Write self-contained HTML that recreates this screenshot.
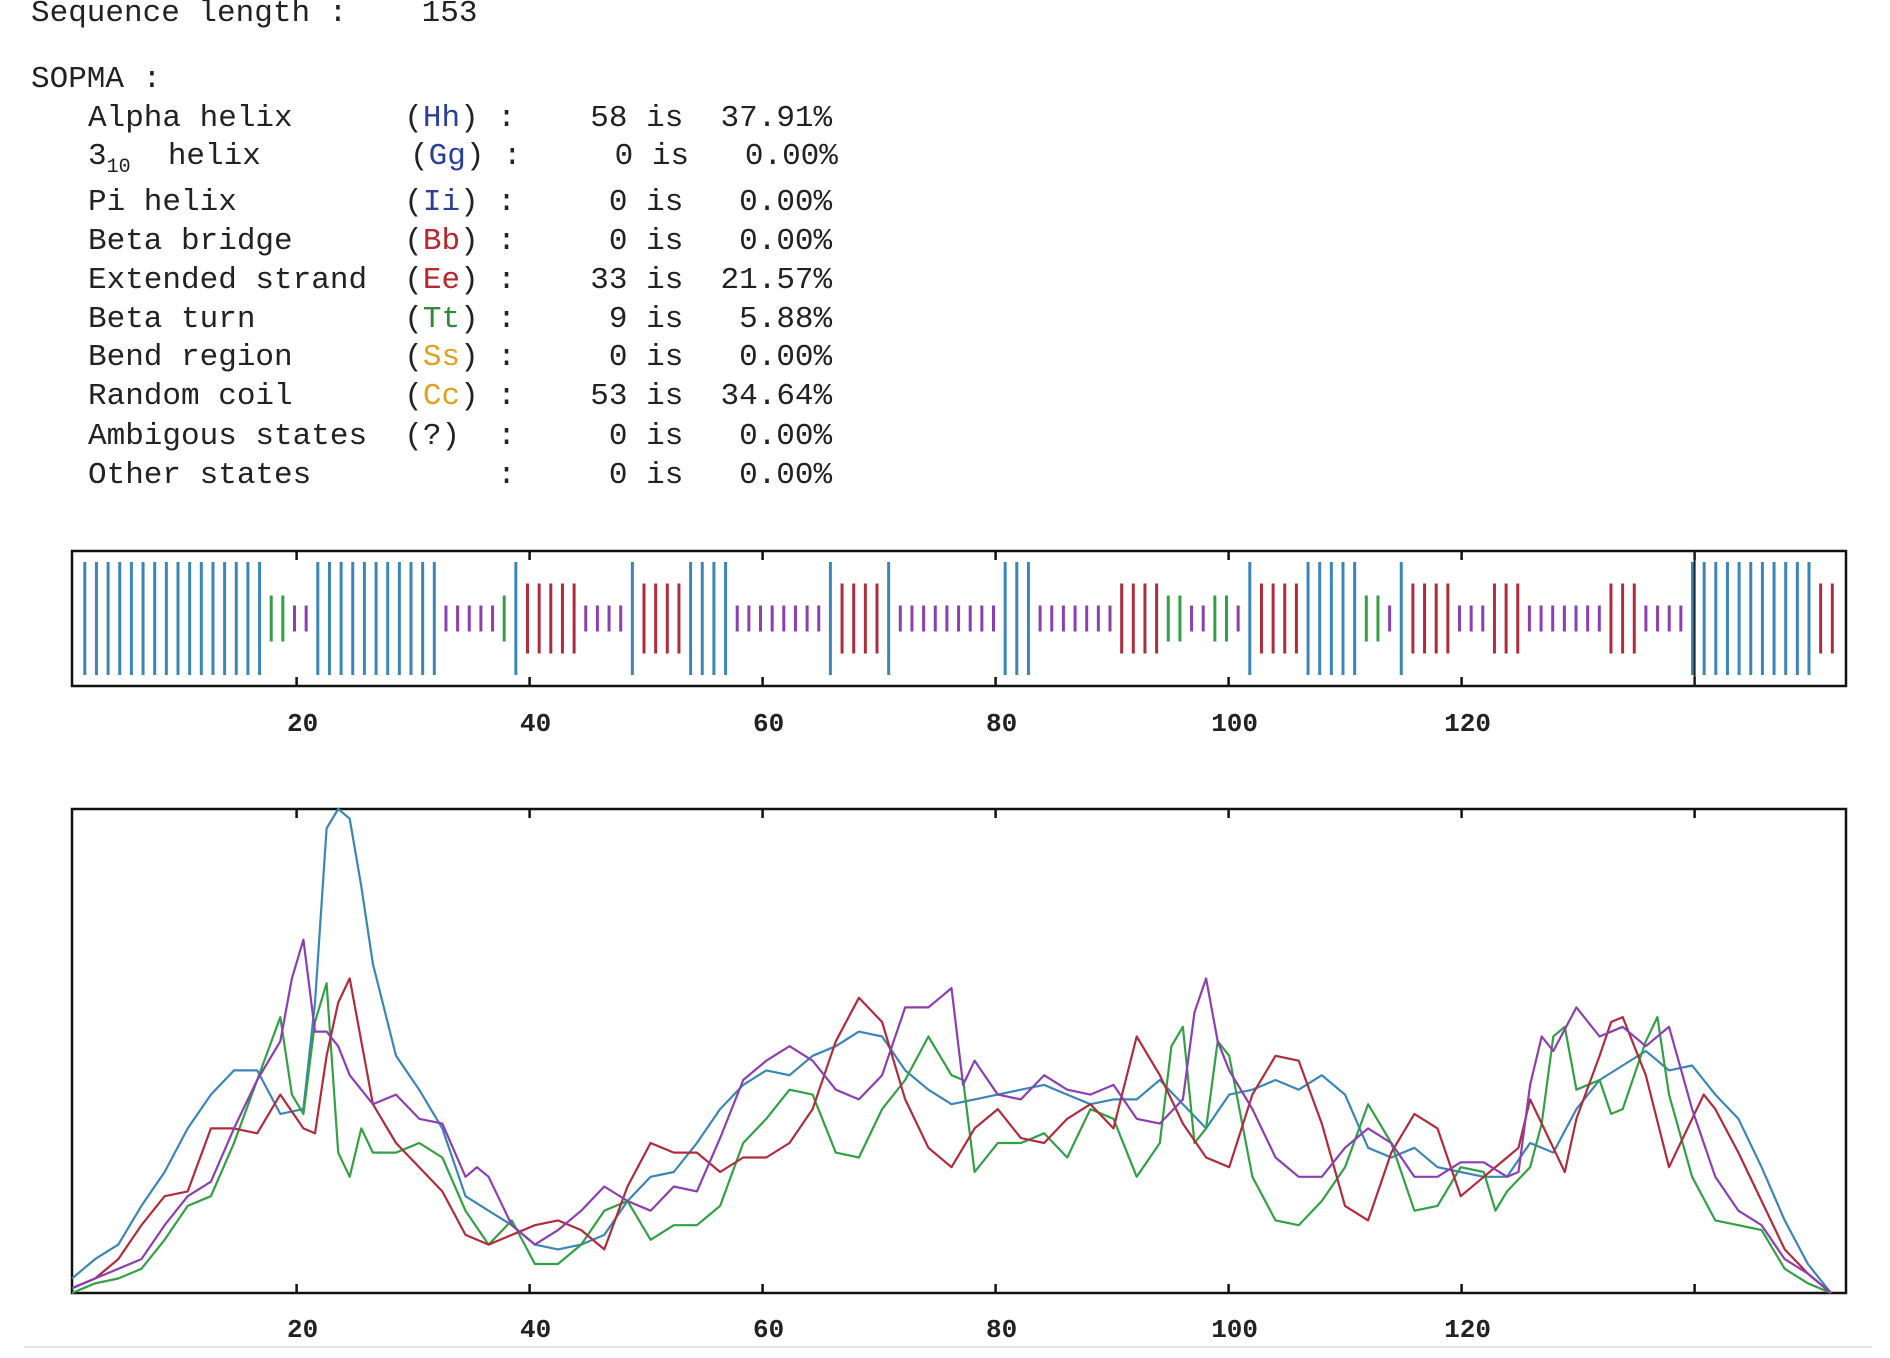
<!DOCTYPE html>
<html><head><meta charset="utf-8">
<style>
html,body{margin:0;padding:0;background:#fff;}
body{width:1890px;height:1358px;position:relative;overflow:hidden;font-family:"Liberation Mono",monospace;color:#222;}
.row{position:absolute;white-space:pre;font-size:31px;line-height:36px;}
.b{color:#2a3f9a}.r{color:#b8262e}.g{color:#2f8a3a}.y{color:#e0a020}
sub{font-size:20px;line-height:0;vertical-align:-8px}
svg{position:absolute;left:0;top:0}
</style></head><body>
<div class="row" style="left:31px;top:-4px">Sequence length :    153</div>
<div class="row" style="left:31px;top:62px">SOPMA :</div>
<div class="row" style="left:88px;top:101px">Alpha helix      (<span class="b">Hh</span>) :    58 is  37.91%</div>
<div class="row" style="left:88px;top:139px">3<sub>10</sub>  helix</div>
<div class="row" style="left:410px;top:139px">(<span class="b">Gg</span>) :     0 is   0.00%</div>
<div class="row" style="left:88px;top:185px">Pi helix         (<span class="b">Ii</span>) :     0 is   0.00%</div>
<div class="row" style="left:88px;top:224px">Beta bridge      (<span class="r">Bb</span>) :     0 is   0.00%</div>
<div class="row" style="left:88px;top:263px">Extended strand  (<span class="r">Ee</span>) :    33 is  21.57%</div>
<div class="row" style="left:88px;top:302px">Beta turn        (<span class="g">Tt</span>) :     9 is   5.88%</div>
<div class="row" style="left:88px;top:340px">Bend region      (<span class="y">Ss</span>) :     0 is   0.00%</div>
<div class="row" style="left:88px;top:379px">Random coil      (<span class="y">Cc</span>) :    53 is  34.64%</div>
<div class="row" style="left:88px;top:419px">Ambigous states  (?)  :     0 is   0.00%</div>
<div class="row" style="left:88px;top:458px">Other states          :     0 is   0.00%</div>

<svg id="chart" width="1890" height="1358" xmlns="http://www.w3.org/2000/svg"></svg>

<script>
// ---- data ----
const sequence = "HHHHHHHHHHHHHHHHTTCCHHHHHHHHHHHCCCCCTHEEEEECCCCHEEEEHHHHCCCCCCCCHEEEEHCCCCCCCCCHHHCCCCCCCEEEETTCCTTCHEEEEHHHHHTTCHEEEECCCEEECCCCCCCEEECCCCHHHHHHHHHHHEE";
const tickLabels = [20,40,60,80,100,120];
const tickValues = [20,40,60,80,100,120,140];

const helixK = [1,3,5,7,9,11,13,15,17,19,21,22,23,24,25,26,27,29,31,33,35,37,39,41,43,45,47,49,51,53,55,57,59,61,63,65,67,69,71,73,75,77,79,81,83,85,87,89,91,93,95,97,99,101,103,105,107,109,111,113,115,117,119,121,123,125,127,129,131,133,135,137,139,141,143,145,147,149,151,153];
const helixV = [.03,.07,.10,.18,.25,.34,.41,.46,.46,.37,.38,.60,.96,1.0,.98,.84,.68,.49,.42,.34,.20,.17,.14,.10,.09,.10,.12,.19,.24,.25,.31,.38,.43,.46,.45,.49,.51,.54,.53,.46,.42,.39,.40,.41,.42,.43,.41,.39,.40,.40,.44,.39,.34,.41,.42,.44,.42,.45,.41,.30,.28,.30,.26,.25,.24,.24,.31,.29,.38,.44,.47,.50,.46,.47,.41,.36,.26,.15,.06,.00];

const strandK = [1,3,5,7,9,11,13,15,17,19,21,22,23,24,25,26,27,29,31,33,35,37,39,41,43,45,47,49,51,53,55,57,59,61,63,65,67,69,71,73,75,77,79,81,83,85,87,89,91,93,95,97,99,101,103,105,107,109,111,113,115,117,119,121,123,125,126,127,129,130,131,133,134,135,137,139,141,142,143,145,147,149,151,153];
const strandV = [.01,.03,.07,.14,.20,.21,.34,.34,.33,.41,.34,.33,.49,.60,.65,.52,.39,.31,.26,.21,.12,.10,.12,.14,.15,.13,.09,.22,.31,.29,.29,.25,.28,.28,.31,.38,.52,.61,.56,.40,.30,.26,.34,.38,.32,.31,.36,.39,.34,.53,.45,.35,.28,.26,.41,.49,.48,.35,.18,.15,.29,.37,.34,.20,.24,.28,.30,.40,.30,.25,.36,.49,.56,.57,.45,.26,.36,.41,.38,.29,.19,.09,.04,.00];

const turnK = [1,3,5,7,9,11,13,15,17,19,20,21,22,23,24,25,26,27,29,31,33,35,37,39,41,43,45,47,49,51,53,55,57,59,61,63,65,67,69,71,73,75,77,78,79,81,83,85,87,89,91,93,95,96,97,98,99,100,101,103,105,107,109,111,113,115,117,119,121,123,124,125,127,128,129,130,131,133,134,135,137,138,139,141,143,145,147,149,151,153];
const turnV = [.00,.02,.03,.05,.11,.18,.20,.31,.44,.57,.41,.37,.56,.64,.29,.24,.34,.29,.29,.31,.28,.17,.10,.15,.06,.06,.10,.17,.19,.11,.14,.14,.18,.31,.36,.42,.41,.29,.28,.38,.44,.53,.45,.44,.25,.31,.31,.33,.28,.38,.36,.24,.31,.51,.55,.31,.34,.52,.49,.24,.15,.14,.19,.26,.39,.31,.17,.18,.26,.25,.17,.21,.26,.35,.53,.55,.42,.44,.37,.38,.52,.57,.41,.24,.15,.14,.13,.05,.02,.00];

const coilK = [1,3,5,7,9,11,13,15,17,19,20,21,22,23,24,25,27,29,31,33,35,36,37,39,41,43,45,47,49,51,53,55,57,59,61,63,65,67,69,71,72,73,75,76,77,78,79,81,83,85,87,89,91,93,95,97,98,99,100,101,103,105,107,109,111,113,115,117,119,121,123,125,126,127,128,129,131,133,135,137,139,141,143,145,147,149,151,153];
const coilV = [.01,.03,.05,.07,.14,.20,.23,.34,.44,.52,.65,.73,.54,.54,.51,.45,.39,.41,.36,.35,.24,.26,.24,.14,.10,.13,.17,.22,.19,.17,.22,.21,.32,.44,.48,.51,.48,.42,.40,.45,.52,.59,.59,.61,.63,.43,.48,.41,.40,.45,.42,.41,.43,.36,.35,.40,.58,.65,.52,.46,.38,.28,.24,.24,.30,.34,.31,.24,.24,.27,.27,.24,.25,.43,.53,.50,.59,.53,.55,.51,.55,.38,.24,.17,.14,.07,.04,.00];

// ---- layout ----
const NS="http://www.w3.org/2000/svg";
const svg=document.getElementById('chart');
const L=72,R=1846;
const topY0=551,topY1=686;
const botY0=809,botY1=1293;
function xs(v){return 63.6+11.65*v;}
function xc(k){return 72+(k-1)*(1831-72)/152;}
function yc(v){return botY1-v*(botY1-botY0);}
function mk(tag,attrs){const e=document.createElementNS(NS,tag);for(const a in attrs)e.setAttribute(a,attrs[a]);svg.appendChild(e);return e;}

const colors={H:'#3b86b6',E:'#b02c3c',T:'#33a045',C:'#8c3fb0'};
const half={H:56.5,E:35,T:23,C:13};
const mid=(topY0+topY1)/2;

for(let i=0;i<sequence.length;i++){
  const s=sequence[i];
  const x=xs(i+1+0.82);
  const ln=mk('line',{x1:x,x2:x,y1:mid-half[s],y2:mid+half[s],stroke:colors[s],'stroke-width':3});
  
  
}
const tb=mk('rect',{x:L,y:topY0,width:R-L,height:topY1-topY0,fill:'none',stroke:'#111','stroke-width':2.5});


const bb=mk('rect',{x:L,y:botY0,width:R-L,height:botY1-botY0,fill:'none',stroke:'#111','stroke-width':2.5});



tickValues.forEach(v=>{
  const x=xs(v);
  [[topY0,topY0+9],[topY1-9,topY1],[botY0,botY0+9],[botY1-9,botY1]].forEach(p=>{
    const t=mk('line',{x1:x,x2:x,y1:p[0],y2:p[1],stroke:'#111','stroke-width':2.5});
    
    
  });
});
const full=mk('line',{x1:xs(140),x2:xs(140),y1:topY0,y2:topY1,stroke:'#222','stroke-width':2});



tickLabels.forEach(v=>{
  [731,1337].forEach(y=>{
    const t=mk('text',{x:xs(v)+6,y:y,'text-anchor':'middle','font-family':'Liberation Mono, monospace','font-weight':'bold','font-size':26,fill:'#222'});
    t.textContent=v;
    
    
  });
});

function curve(K,V,col,name){
  let d='';
  for(let i=0;i<K.length;i++)d+=(i?'L':'M')+xc(K[i]).toFixed(1)+','+yc(V[i]).toFixed(1);
  const p=mk('path',{d:d,fill:'none',stroke:col,'stroke-width':2.2,'stroke-linejoin':'round'});
  
  
}
curve(helixK,helixV,'#3b86b6','helix-curve');
curve(turnK,turnV,'#33a045','turn-curve');
curve(strandK,strandV,'#b02c3c','strand-curve');
curve(coilK,coilV,'#8c3fb0','coil-curve');

const sep=mk('line',{x1:24,x2:1872,y1:1347,y2:1347,stroke:'#e2e2e2','stroke-width':2});


</script>
</body></html>
